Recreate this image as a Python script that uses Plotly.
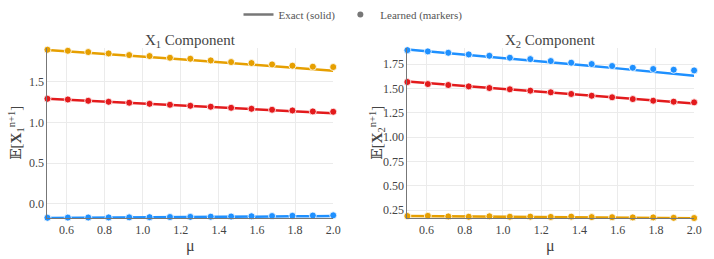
import plotly.graph_objects as go

mu = [0.5, 0.607, 0.714, 0.821, 0.929, 1.036, 1.143, 1.25, 1.357, 1.464, 1.571, 1.679, 1.786, 1.893, 2.0]

# X1 component
x1_orange_exact = [1.890, 1.874, 1.857, 1.840, 1.822, 1.804, 1.786, 1.767, 1.748, 1.729, 1.710, 1.691, 1.672, 1.653, 1.635]
x1_orange_learn = [1.894, 1.881, 1.865, 1.848, 1.828, 1.816, 1.795, 1.783, 1.762, 1.742, 1.730, 1.713, 1.697, 1.685, 1.681]
x1_red_exact = [1.290, 1.278, 1.266, 1.254, 1.241, 1.229, 1.216, 1.203, 1.190, 1.177, 1.164, 1.151, 1.138, 1.125, 1.112]
x1_red_learn = [1.291, 1.282, 1.266, 1.254, 1.242, 1.229, 1.217, 1.205, 1.193, 1.180, 1.168, 1.156, 1.147, 1.135, 1.131]
x1_blue_exact = [-0.175, -0.174, -0.173, -0.172, -0.171, -0.169, -0.168, -0.166, -0.164, -0.162, -0.160, -0.158, -0.155, -0.152, -0.149]
x1_blue_learn = [-0.172, -0.170, -0.169, -0.168, -0.167, -0.165, -0.163, -0.161, -0.159, -0.157, -0.154, -0.151, -0.148, -0.145, -0.142]

# X2 component
x2_blue_exact = [1.900, 1.882, 1.864, 1.846, 1.827, 1.808, 1.789, 1.770, 1.751, 1.731, 1.711, 1.691, 1.671, 1.651, 1.630]
x2_blue_learn = [1.893, 1.880, 1.866, 1.849, 1.835, 1.815, 1.801, 1.781, 1.764, 1.750, 1.730, 1.712, 1.699, 1.692, 1.685]
x2_red_exact = [1.570, 1.554, 1.538, 1.522, 1.506, 1.490, 1.474, 1.457, 1.440, 1.424, 1.407, 1.390, 1.373, 1.357, 1.345]
x2_red_learn = [1.566, 1.545, 1.535, 1.521, 1.504, 1.491, 1.477, 1.460, 1.443, 1.425, 1.409, 1.391, 1.374, 1.364, 1.357]
x2_orange_exact = [0.190, 0.189, 0.187, 0.186, 0.184, 0.183, 0.181, 0.180, 0.178, 0.177, 0.175, 0.174, 0.172, 0.170, 0.168]
x2_orange_learn = [0.190, 0.192, 0.186, 0.183, 0.187, 0.183, 0.184, 0.181, 0.184, 0.179, 0.178, 0.176, 0.176, 0.172, 0.170]

ORANGE = "#E69F00"
RED = "#E31A1C"
BLUE = "#1E90FF"
FONT = "Liberation Serif, DejaVu Serif, serif"
TXT = "#444444"

fig = go.Figure()

def add(exact, learn, color, xa, ya):
    fig.add_trace(go.Scatter(x=mu, y=exact, mode="lines", line=dict(color=color, width=2.5),
                             xaxis=xa, yaxis=ya, showlegend=False, cliponaxis=False))
    fig.add_trace(go.Scatter(x=mu, y=learn, mode="markers",
                             marker=dict(color=color, size=7, line=dict(color="white", width=0.8)),
                             xaxis=xa, yaxis=ya, showlegend=False, cliponaxis=False))

add(x1_orange_exact, x1_orange_learn, ORANGE, "x", "y")
add(x1_red_exact, x1_red_learn, RED, "x", "y")
add(x1_blue_exact, x1_blue_learn, BLUE, "x", "y")
add(x2_blue_exact, x2_blue_learn, BLUE, "x2", "y2")
add(x2_red_exact, x2_red_learn, RED, "x2", "y2")
add(x2_orange_exact, x2_orange_learn, ORANGE, "x2", "y2")

# legend entries
fig.add_trace(go.Scatter(x=[None], y=[None], mode="lines", line=dict(color="#777777", width=2.5),
                         name="Exact (solid)"))
fig.add_trace(go.Scatter(x=[None], y=[None], mode="markers", marker=dict(color="#777777", size=6),
                         name="Learned (markers)"))

def axis(**kw):
    d = dict(showgrid=True, gridcolor="#EBEBEB", gridwidth=1, showline=True, linecolor="#777777",
             linewidth=1.2, zeroline=False, ticks="", ticklen=0,
             tickfont=dict(family=FONT, size=12, color=TXT))
    d.update(kw)
    return d

fig.update_layout(
    width=714, height=259,
    margin=dict(l=0, r=0, t=0, b=0),
    paper_bgcolor="white", plot_bgcolor="white",
    font=dict(family=FONT, color=TXT, size=12),
    xaxis=axis(range=[0.5, 2.0], dtick=0.2, tick0=0.2, tickformat=".1f",
               domain=[48/714, 337/714], anchor="y"),
    xaxis2=axis(range=[0.5, 2.0], dtick=0.2, tick0=0.2, tickformat=".1f",
                domain=[412/714, 702/714], anchor="y2"),
    yaxis=axis(range=[-0.175, 1.915], dtick=0.5, tickformat=".1f", anchor="x",
               domain=[1-218/259, 1-48/259]),
    yaxis2=axis(range=[0.17, 1.915], dtick=0.25, tickformat=".2f", anchor="x2",
                domain=[1-218/259, 1-48/259]),
    legend=dict(orientation="h", x=0.5, xanchor="center", y=1.0, yanchor="top",
                font=dict(family=FONT, size=11, color="#555555"), itemwidth=30, bgcolor="rgba(0,0,0,0)"),
)

def ann(text, xpx, ypx, size, angle=0):
    fig.add_annotation(text=text, x=xpx/714, y=1-ypx/259, xref="paper", yref="paper",
                       xanchor="center", yanchor="middle", showarrow=False, textangle=angle,
                       font=dict(family=FONT, size=size, color=TXT))

ann("X<sub>1</sub> Component", (48+337)/2, 41, 15)
ann("X<sub>2</sub> Component", (412+702)/2, 41, 15)
ann("μ", (48+337)/2, 246, 16)
ann("μ", (412+702)/2, 246, 16)
ann("𝔼[<b>X</b><sub>1</sub><sup>n+1</sup>]", 16, 133, 15, -90)
ann("𝔼[<b>X</b><sub>2</sub><sup>n+1</sup>]", 381, 133, 15, -90)

fig.write_html("out.html", config={"displayModeBar": False},
               post_script="document.body.style.margin='0';document.body.style.overflow='hidden';")
